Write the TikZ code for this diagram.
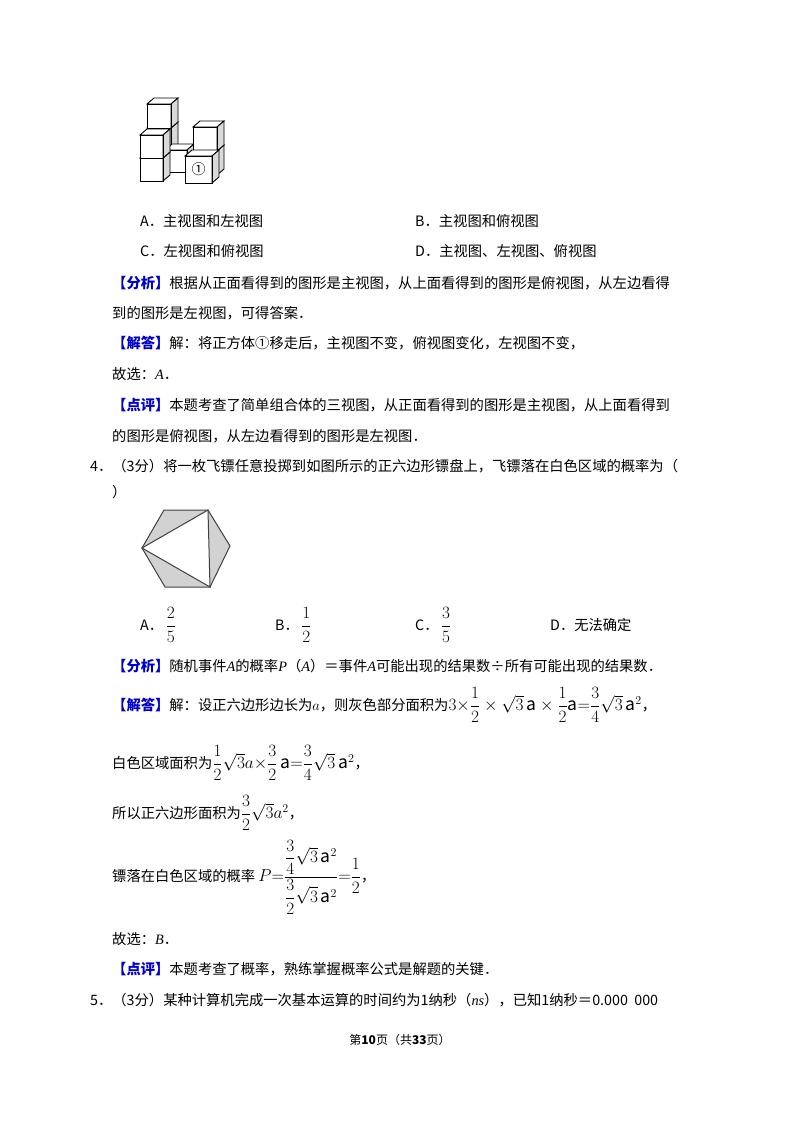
\documentclass[tikz,border=0pt]{standalone}
\usepackage{amsmath}
\usepackage{fontspec}
\setmainfont{Noto Sans CJK SC}
\newfontfamily\numfont{Liberation Serif}
\newcommand{\mymath}[1]{{\fontsize{17.5}{20}\selectfont$#1$}}
\newcommand{\tagb}[1]{\textcolor{blue!80!black}{\textbf{#1}}}
\begin{document}
\begin{tikzpicture}[x=1pt,y=-1pt,
  txt/.style={anchor=west,inner sep=0pt,font=\fontsize{14.3}{16}\selectfont},
  cb/.style={draw=black,line width=0.9pt}]
\useasboundingbox (0,0) rectangle (800,1132);
\newcommand{\cubeat}[4]{% x y size label
  \fill[white] (#1,#2) rectangle ++(#3,#3);
  \filldraw[cb,fill=white] (#1,#2) -- ++(7,-6) -- ++(#3,0) -- ++(-7,6) -- cycle;
  \filldraw[cb,fill=gray!30] (#1+#3,#2) -- ++(7,-6) -- ++(0,#3) -- ++(-7,6) -- cycle;
  \draw[cb] (#1,#2) rectangle ++(#3,#3);
  \node[inner sep=0pt] at (#1+#3/2,#2+#3/2) {#4};}
% cube figure
\cubeat{147}{128}{24}{}
\cubeat{147}{104}{24}{}
\cubeat{165}{150}{22}{}
\cubeat{193}{151}{24}{}
\cubeat{193}{127}{24}{}
\cubeat{140}{158}{23}{}
\cubeat{140}{135}{23}{}
\cubeat{185}{156}{27}{\fontsize{14}{14}\selectfont ①}
% text block 1
\node[txt] (a1) at (140,221) {A．主视图和左视图};
\node[txt] (b1) at (415,221) {B．主视图和俯视图};
\node[txt] (c1) at (140,251) {C．左视图和俯视图};
\node[txt] (d1) at (415,251) {D．主视图、左视图、俯视图};
\node[txt] (t1) at (112,283) {\tagb{【分析】}根据从正面看得到的图形是主视图，从上面看得到的图形是俯视图，从左边看得};
\node[txt] (t2) at (112,313) {到的图形是左视图，可得答案．};
\node[txt] (t3) at (112,343) {\tagb{【解答】}解：将正方体①移走后，主视图不变，俯视图变化，左视图不变，};
\node[txt] (t4) at (112,374) {故选：\textit{\numfont A}．};
\node[txt] (t5) at (112,405) {\tagb{【点评】}本题考查了简单组合体的三视图，从正面看得到的图形是主视图，从上面看得到};
\node[txt] (t6) at (112,436) {的图形是俯视图，从左边看得到的图形是左视图．};
\node[txt] (q4) at (90,466) {4．（3分）将一枚飞镖任意投掷到如图所示的正六边形镖盘上，飞镖落在白色区域的概率为（};
\node[txt] (q4b) at (112,492) {）};
% hexagon
\coordinate (L) at (142,548); \coordinate (TL) at (164,510); \coordinate (TR) at (208,510);
\coordinate (R) at (230,546); \coordinate (BR) at (210,587); \coordinate (BL) at (165,587);
\filldraw[fill=gray!35,draw=black!75,line width=1pt] (L)--(TL)--(TR)--(R)--(BR)--(BL)--cycle;
\filldraw[fill=white,draw=black!75,line width=1pt] (L)--(TR)--(BR)--cycle;
% options
\node[txt] (oa) at (140,625) {A．\,\mymath{\dfrac{2}{5}}};
\node[txt] (ob) at (275,625) {B．\,\mymath{\dfrac{1}{2}}};
\node[txt] (oc) at (415,625) {C．\,\mymath{\dfrac{3}{5}}};
\node[txt] (od) at (550,625) {D．无法确定};
\node[txt] (s1) at (112,666) {\tagb{【分析】}随机事件\textit{\numfont A}的概率\textit{\numfont P}（\textit{\numfont A}）＝事件\textit{\numfont A}可能出现的结果数÷所有可能出现的结果数．};
\node[txt] (s2) at (112,705) {\tagb{【解答】}解：设正六边形边长为$a$，则灰色部分面积为\mymath{3{\times}\dfrac{1}{2}\times\sqrt{3}\,\mathrm{a}\times\dfrac{1}{2}\mathrm{a}{=}\dfrac{3}{4}\sqrt{3}\,\mathrm{a}^{2}}，};
\node[txt] (s3) at (112,763) {白色区域面积为\mymath{\dfrac{1}{2}\sqrt{3}a{\times}\dfrac{3}{2}\,\mathrm{a}{=}\dfrac{3}{4}\sqrt{3}\,\mathrm{a}^{2}}，};
\node[txt] (s4) at (112,813) {所以正六边形面积为\mymath{\dfrac{3}{2}\sqrt{3}a^{2}}，};
\node[txt] (s5) at (112,877) {镖落在白色区域的概率 \mymath{P{=}\dfrac{\dfrac{3}{4}\sqrt{3}\,\mathrm{a}^{2}}{\dfrac{3}{2}\sqrt{3}\,\mathrm{a}^{2}}{=}\dfrac{1}{2}}，};
\node[txt] (s6) at (112,939) {故选：\textit{\numfont B}．};
\node[txt] (s7) at (112,969) {\tagb{【点评】}本题考查了概率，熟练掌握概率公式是解题的关键．};
\node[txt] (q5) at (90,1000) {5．（3分）某种计算机完成一次基本运算的时间约为1纳秒（\textit{\numfont ns}），已知1纳秒＝0.000\ \ 000};
\node[inner sep=0pt,font=\fontsize{12}{14}\selectfont] (ft) at (400,1040) {第\textbf{\large 10}页（共\textbf{\large 33}页）};
\end{tikzpicture}
\end{document}
